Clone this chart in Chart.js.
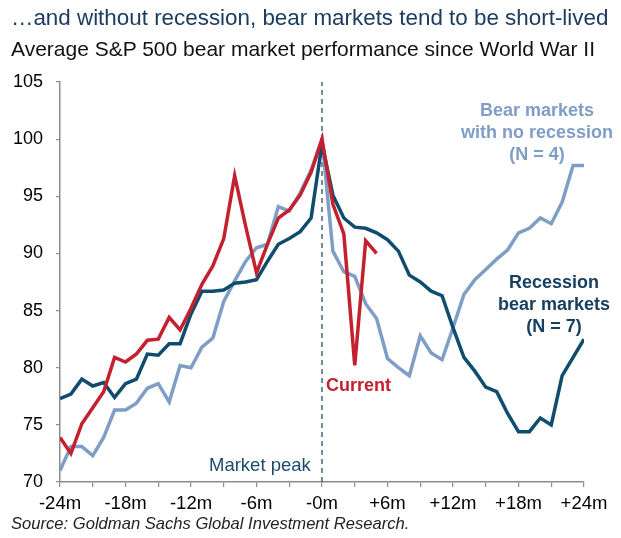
<!DOCTYPE html>
<html>
<head>
<meta charset="utf-8">
<script src="https://cdn.jsdelivr.net/npm/chart.js@4/dist/chart.umd.min.js"></script>
<style>
  html, body { margin: 0; padding: 0; background: #fff; }
  #wrap { position: relative; width: 621px; height: 538px; overflow: hidden; font-family: "Liberation Sans", Arial, sans-serif; }
  #c { position: absolute; left: 0; top: 0; }
  .t { position: absolute; white-space: nowrap; }
  #title { left: 11px; top: 5px; font-size: 22.4px; color: #1c3d60; }
  #subtitle { left: 11px; top: 37px; font-size: 21px; color: #111; }
  #source { left: 11px; top: 514px; font-size: 16.6px; font-style: italic; color: #222; }
  .ann { font-weight: bold; font-size: 18px; line-height: 22px; text-align: center; }
  #annNoRec { left: 456px; top: 99px; width: 162px; color: #7f9ec6; }
  #annRec { left: 493px; top: 271px; width: 122px; color: #173f60; }
  #annCur { left: 326px; top: 374px; color: #c4212f; }
  #annPeak { left: 209px; top: 454px; font-size: 18.5px; color: #1e4a70; }
</style>
</head>
<body>
<div id="wrap">
  <canvas id="c" width="621" height="538"></canvas>
  <div class="t" id="title">…and without recession, bear markets tend to be short-lived</div>
  <div class="t" id="subtitle">Average S&amp;P 500 bear market performance since World War II</div>
  <div class="t" id="source">Source: Goldman Sachs Global Investment Research.</div>
  <div class="t ann" id="annNoRec">Bear markets<br>with no recession<br>(N = 4)</div>
  <div class="t ann" id="annRec">Recession<br>bear markets<br>(N = 7)</div>
  <div class="t ann" id="annCur">Current</div>
  <div class="t" id="annPeak">Market peak</div>
</div>
<script>
// months relative to market peak
const months = [-24,-23,-22,-21,-20,-19,-18,-17,-16,-15,-14,-13,-12,-11,-10,-9,-8,-7,-6,-5,-4,-3,-2,-1,0,
                1,2,3,4,5,6,7,8,9,10,11,12,13,14,15,16,17,18,19,20,21,22,23,24];

// Bear markets with no recession (N = 4)
const noRecession = [71.0,73.1,73.1,72.3,73.9,76.3,76.3,76.9,78.2,78.6,77.0,80.2,80.0,81.8,82.6,85.8,87.6,89.3,90.5,90.8,94.1,93.7,95.3,97.3,100.0,
                     90.2,88.4,88.0,85.6,84.3,80.8,80.0,79.3,82.8,81.3,80.7,83.5,86.4,87.7,88.6,89.5,90.3,91.8,92.2,93.1,92.6,94.5,97.7,97.7];

// Recession bear markets (N = 7)
const recession = [77.3,77.7,79.0,78.4,78.7,77.4,78.6,79.0,81.2,81.1,82.1,82.1,84.7,86.7,86.7,86.8,87.4,87.5,87.7,89.3,90.8,91.3,91.9,93.1,99.6,
                   95.1,93.1,92.3,92.2,91.8,91.2,90.2,88.1,87.5,86.7,86.3,83.5,80.9,79.7,78.3,77.9,76.0,74.4,74.4,75.6,75.0,79.3,80.9,82.5];

// Current
const current = [73.9,72.5,75.1,76.5,77.9,80.9,80.5,81.2,82.4,82.5,84.4,83.3,85.2,87.3,88.9,91.3,96.8,92.4,88.3,90.8,93.1,93.8,95.1,97.1,100.0,
                 94.3,91.7,80.2,91.1,90.0];

const xTickValues = [-24,-21,-18,-15,-12,-9,-6,-3,0,3,6,9,12,15,18,21,24];
const xLabelValues = [-24,-18,-12,-6,0,6,12,18,24];
const xLabels = ["-24m","-18m","-12m","-6m","-0m","+6m","+12m","+18m","+24m"];
const yMin = 70, yMax = 105, yStep = 5;
const peakMonth = 0;

function pts(vals) { return vals.map((v, i) => ({ x: months[i], y: v })); }

const axisColor = '#8c8c8c';
const font = { family: '"Liberation Sans", Arial, sans-serif', size: 18 };
const xfont = { family: '"Liberation Sans", Arial, sans-serif', size: 18.5 };

new Chart(document.getElementById('c'), {
  type: 'line',
  data: {
    datasets: [
      { label: 'Current', data: pts(current), borderColor: '#c4212f', borderWidth: 3.5, pointRadius: 0, tension: 0, order: 0 },
      { label: 'Recession bear markets', data: pts(recession), borderColor: '#0f4c6e', borderWidth: 3.5, pointRadius: 0, tension: 0, order: 1 },
      { label: 'Bear markets with no recession', data: pts(noRecession), borderColor: '#7f9ec6', borderWidth: 3.5, pointRadius: 0, tension: 0, order: 2 },
      { label: 'Market peak', data: [{ x: peakMonth, y: yMin }, { x: peakMonth, y: yMax }], borderColor: '#2a4d70', borderWidth: 1.3, borderDash: [5, 4], pointRadius: 0, order: 3 }
    ]
  },
  options: {
    responsive: false,
    animation: false,
    devicePixelRatio: 1,
    layout: { padding: { left: 0, right: 37, top: 82, bottom: 26 } },
    plugins: { legend: { display: false }, tooltip: { enabled: false } },
    scales: {
      x: {
        type: 'linear', min: -24, max: 24,
        afterBuildTicks: (s) => { s.ticks = xTickValues.map(v => ({ value: v })); },
        afterFit: (s) => { s.height = 30; },
        ticks: {
          autoSkip: false, maxRotation: 0, minRotation: 0, padding: 6, color: '#000', font: xfont,
          callback: (v) => { const i = xLabelValues.indexOf(v); return i >= 0 ? xLabels[i] : ''; }
        },
        grid: { drawOnChartArea: false, drawTicks: true, tickLength: 5, color: axisColor, lineWidth: 1.2 },
        border: { display: true, color: axisColor, width: 1.5 }
      },
      y: {
        min: yMin, max: yMax,
        afterFit: (s) => { s.width = 60; },
        ticks: { stepSize: yStep, padding: 13, color: '#000', font: font },
        grid: { drawOnChartArea: false, drawTicks: true, tickLength: 4, color: axisColor, lineWidth: 1.2 },
        border: { display: true, color: axisColor, width: 1.5 }
      }
    }
  }
});
</script>
</body>
</html>
